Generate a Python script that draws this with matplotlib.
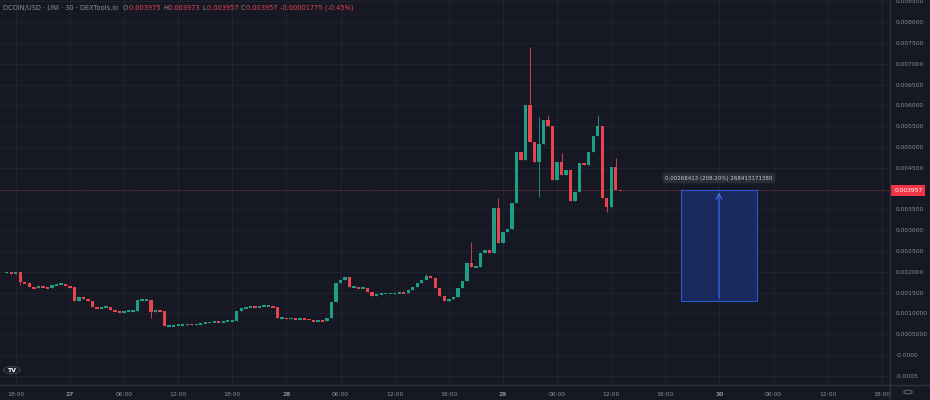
import matplotlib
matplotlib.use("Agg")
import matplotlib.pyplot as plt
from matplotlib.patches import Rectangle, Circle
from matplotlib.lines import Line2D

# 30 min candles, first one at 26th 17:00 (prices in units of 1e-3 USD)
first_open = 1.983
closes = [
    1.995, 1.947, 1.995, 1.755, 1.731, 1.635, 1.611, 1.659, 1.635, 1.611,
    1.683, 1.707, 1.707, 1.659, 1.635, 1.298, 1.394, 1.346, 1.298, 1.154,
    1.130, 1.154, 1.154, 1.082, 1.058, 1.034, 1.058, 1.058, 1.058, 1.322,
    1.322, 1.322, 1.034, 1.082, 1.058, 0.697, 0.697, 0.721, 0.721, 0.733,
    0.745, 0.733, 0.745, 0.769, 0.781, 0.793, 0.805, 0.793, 0.817, 0.817,
    0.829, 1.058, 1.130, 1.154, 1.166, 1.154, 1.178, 1.178, 1.190, 1.154,
    0.889, 0.889, 0.877, 0.889, 0.865, 0.877, 0.865, 0.853, 0.817, 0.841,
    0.817, 0.889, 1.274, 1.731, 1.803, 1.875, 1.635, 1.635, 1.611, 1.611,
    1.514, 1.418, 1.466, 1.478, 1.478, 1.478, 1.490, 1.514, 1.490, 1.563,
    1.635, 1.731, 1.803, 1.899, 1.851, 1.611, 1.418, 1.298, 1.346, 1.394,
    1.611, 1.779, 2.212, 2.115, 2.115, 2.452, 2.524, 2.452, 3.534, 2.692,
    2.957, 3.029, 3.654, 4.880, 4.688, 6.010, 5.120, 4.639, 5.072, 5.649,
    5.505, 4.207, 4.639, 4.327, 4.447, 3.702, 3.918, 4.615, 4.567, 4.880,
    5.264, 5.505, 3.774, 3.558, 4.519, 3.975, 3.957,
]
high_wicks = {93: 1.947, 103: 2.716, 109: 3.774, 116: 7.404, 118: 5.721,
              120: 5.769, 123: 4.856, 131: 5.769, 135: 4.736}
low_wicks = {3: 1.683, 32: 0.889, 118: 3.798, 133: 3.438}

tick_pos = [2, 14, 26, 38, 50, 62, 74, 86, 98, 110, 122, 134, 146, 158, 170, 182, 194]
tick_labels = ["18:00", "27", "06:00", "12:00", "18:00", "28", "06:00", "12:00",
               "18:00", "29", "06:00", "12:00", "18:00", "30", "06:00", "12:00", "18:00"]
day_labels = ["27", "28", "29", "30"]

price_ticks = [-0.5, 0.0, 0.5, 1.0, 1.5, 2.0, 2.5, 3.0, 3.5, 4.5, 5.0, 5.5,
               6.0, 6.5, 7.0, 7.5, 8.0, 8.5]
price_labels = ["-0.0005", "-0.0000", "0.0005000", "0.0010000", "0.001500",
                "0.002000", "0.002500", "0.003000", "0.003500", "0.004500",
                "0.005000", "0.005500", "0.006000", "0.006500", "0.007000",
                "0.007500", "0.008000", "0.008500"]

last_price = 3.957
box_left, box_right = 149.5, 166.3
box_bottom, box_top = 1.29, 3.974
box_text = "0.00268413 (208.20%) 268413171380"

header_parts = [("DCOIN/USD · UNI · 30 · DEXTools.io  ", "grey"), ("O", "grey"),
                ("0.003975 ", "red"), ("H", "grey"), ("0.003973 ", "red"),
                ("L", "grey"), ("0.003957 ", "red"), ("C", "grey"),
                ("0.003957 ", "red"), ("-0.00001775 (-0.45%)", "red")]

bg = "#161823"
grid_c = "#222533"
green = "#1f9e86"
red = "#e8434f"
txt = "#8a8e99"

fig = plt.figure(figsize=(9.3, 4.0), dpi=100, facecolor=bg)
ax = fig.add_axes([0, 15 / 400, 890 / 930, 385 / 400])
ax.set_facecolor(bg)

opens = [first_open] + closes[:-1]
for i, (o, c) in enumerate(zip(opens, closes)):
    col = green if c >= o else red
    hi = high_wicks.get(i, max(o, c))
    lo = low_wicks.get(i, min(o, c))
    ax.vlines(i, lo, hi, color=col, linewidth=0.6, zorder=3)
    h = c - o
    if abs(h) < 0.04:
        # flat candle: draw a thin body so it stays visible
        h = 0.04
        bot = min(o, c) - 0.02
    else:
        bot = o
    ax.bar(i, h, bottom=bot, width=0.74, color=col, linewidth=0, zorder=4)

# measuring tool
ax.add_patch(Rectangle((box_left, box_bottom), box_right - box_left, box_top - box_bottom,
                       facecolor="#1b2d66", edgecolor="#2f5fe0", linewidth=0.8,
                       alpha=0.9, zorder=2))
mid = (box_left + box_right) / 2
ax.annotate("", xy=(mid, box_top), xytext=(mid, box_bottom),
            arrowprops=dict(arrowstyle="->", color="#3f6ff0", lw=0.8), zorder=3)
ax.text(mid, 4.255, box_text, ha="center", va="center", fontsize=4, color="#c9ccd4",
        bbox=dict(boxstyle="round,pad=0.5", facecolor="#2a2d38", edgecolor="none"),
        zorder=5)

# last price line + badge
ax.axhline(last_price, color=red, linewidth=0.6, linestyle=(0, (1, 1.5)), alpha=0.8, zorder=1)
ax.annotate(f"{last_price / 1000:.6f}", xy=(1.0, last_price),
            xycoords=("axes fraction", "data"), xytext=(3, 0), textcoords="offset points",
            ha="left", va="center", fontsize=4.3, color="white",
            bbox=dict(boxstyle="square,pad=0.45", facecolor="#f23645", edgecolor="none"),
            annotation_clip=False, zorder=6)

ax.set_xlim(-1.5, 195.8)
ax.set_ylim(-0.721, 8.534)

ax.set_xticks(tick_pos)
ax.set_xticklabels(tick_labels)
for lab in ax.get_xticklabels():
    if lab.get_text() in day_labels:
        lab.set_fontweight("bold")
        lab.set_color("#c9ccd4")
ax.yaxis.tick_right()
ax.set_yticks(price_ticks)
ax.set_yticklabels(price_labels)
ax.tick_params(axis="x", length=0, pad=5, labelsize=4.3, labelcolor=txt)
ax.tick_params(axis="y", length=0, pad=4, labelsize=4.3, labelcolor=txt)
ax.grid(True, color=grid_c, linewidth=0.6)
ax.set_axisbelow(True)
for s in ax.spines.values():
    s.set_visible(False)

# axis separators
fig.add_artist(Line2D([890 / 930, 890 / 930], [0, 1], color="#2e3140", linewidth=1.0))
fig.add_artist(Line2D([0, 1], [15 / 400, 15 / 400], color="#2e3140", linewidth=1.0))

# header, pieces placed one after another
renderer = fig.canvas.get_renderer()
x_px = 3
y_head = 1 - 8 / 400
for s, kind in header_parts:
    col = red if kind == "red" else txt
    t = fig.text(x_px / 930, y_head, s, fontsize=4.8, color=col, va="center")
    x_px += t.get_window_extent(renderer).width + 0.5

# logo and corner icon
fig.add_artist(Circle((12 / 930, 1 - 370 / 400), 0.009, transform=fig.transFigure,
                      facecolor="#1e2029", edgecolor="#3a3d48", linewidth=0.8))
fig.text(12 / 930, 1 - 370 / 400, "TV", fontsize=4.5, color="white", fontweight="bold",
         ha="center", va="center")
fig.add_artist(Circle((908 / 930, 1 - 392 / 400), 0.0045, transform=fig.transFigure,
                      facecolor="none", edgecolor="#6a6e79", linewidth=0.7))

fig.savefig("out.png", dpi=100, facecolor=bg)
